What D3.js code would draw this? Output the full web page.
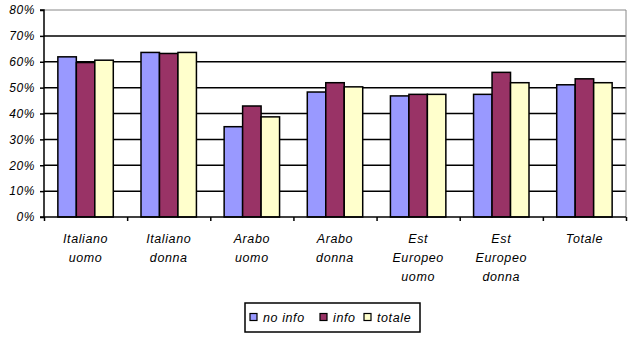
<!DOCTYPE html>
<html>
<head>
<meta charset="utf-8">
<script src="https://cdn.jsdelivr.net/npm/d3@7"></script>
<style>
  html, body { margin: 0; padding: 0; background: #fff; }
  svg { display: block; }
  text { font-family: "Liberation Sans", Arial, sans-serif; font-style: italic; fill: #000; }
</style>
</head>
<body>
<script>
const categories = [
  ["Italiano", "uomo"],
  ["Italiano", "donna"],
  ["Arabo", "uomo"],
  ["Arabo", "donna"],
  ["Est", "Europeo", "uomo"],
  ["Est", "Europeo", "donna"],
  ["Totale"]
];
const seriesNames = ["no info", "info", "totale"];
const noInfo = [0.619, 0.636, 0.349, 0.483, 0.468, 0.474, 0.511];
const info   = [0.597, 0.632, 0.429, 0.519, 0.474, 0.559, 0.534];
const totale = [0.606, 0.636, 0.387, 0.503, 0.474, 0.519, 0.519];
const yTicks = [0, 0.1, 0.2, 0.3, 0.4, 0.5, 0.6, 0.7, 0.8];
const colors = ["#9999FF", "#993366", "#FFFFCC"];

const W = 629, H = 337;
const pLeft = 44, pRight = 626, pTop = 10, pBottom = 217;

const svg = d3.select("body").append("svg").attr("width", W).attr("height", H);

const catIdx = categories.map((d, i) => i);
const x = d3.scaleBand().domain(catIdx).range([pLeft, pRight]).paddingInner(0).paddingOuter(0);
const y = d3.scaleLinear().domain([0, 0.8]).range([pBottom, pTop]);
const bw = x.bandwidth() / 4.5;
const xs = d3.scaleBand().domain([0, 1, 2]).range([0.75 * bw, 3.75 * bw]);

// gridlines
svg.append("g").selectAll("line").data(yTicks.filter(t => t > 0)).join("line")
  .attr("x1", pLeft).attr("x2", pRight)
  .attr("y1", d => y(d)).attr("y2", d => y(d))
  .attr("stroke", d => d === 0.8 ? "#888" : "#000")
  .attr("stroke-width", d => d === 0.8 ? 1 : 1.5);
// right border
svg.append("line").attr("x1", pRight).attr("x2", pRight).attr("y1", pTop).attr("y2", pBottom)
  .attr("stroke", "#888").attr("stroke-width", 1);

// bars
const data = [noInfo, info, totale];
const g = svg.append("g");
data.forEach((vals, s) => {
  g.selectAll(null).data(vals).join("rect")
    .attr("x", (d, i) => x(i) + xs(s))
    .attr("y", d => y(d))
    .attr("width", xs.bandwidth())
    .attr("height", d => y(0) - y(d))
    .attr("fill", colors[s])
    .attr("stroke", "#000")
    .attr("stroke-width", 1.5);
});

// y axis
const yAxis = d3.axisLeft(y).tickValues(yTicks).tickFormat(d3.format(".0%")).tickSize(4).tickPadding(5);
const ya = svg.append("g").attr("transform", `translate(${pLeft},0)`).call(yAxis);
ya.select(".domain").attr("stroke", "#000").attr("stroke-width", 1.5).attr("d", `M-4,${pTop}H0V${pBottom}H-4`);
ya.selectAll(".tick line").attr("stroke", "#000").attr("stroke-width", 1.5);
ya.selectAll(".tick text").attr("font-size", 12).attr("font-style", "italic")
  .attr("font-family", "Liberation Sans, Arial, sans-serif").attr("letter-spacing", "0.6px").attr("fill", "#000");

// x axis
const xAxis = d3.axisBottom(d3.scaleLinear().domain([0, 7]).range([pLeft, pRight]))
  .tickValues(d3.range(8)).tickSize(4).tickFormat("");
const xa = svg.append("g").attr("transform", `translate(0,${pBottom})`).call(xAxis);
xa.select(".domain").attr("stroke", "#000").attr("stroke-width", 1.5).attr("d", `M${pLeft},0H${pRight}`);
xa.selectAll(".tick line").attr("stroke", "#000").attr("stroke-width", 1.5);

// category labels
const lab = svg.append("g");
categories.forEach((lines, i) => {
  const t = lab.append("text")
    .attr("x", x(i) + x.bandwidth() / 2)
    .attr("y", 243)
    .attr("text-anchor", "middle")
    .attr("font-size", 12.5)
    .attr("letter-spacing", "0.6px");
  lines.forEach((ln, j) => {
    t.append("tspan").attr("x", x(i) + x.bandwidth() / 2).attr("y", 243 + j * 19).text(ln);
  });
});

// legend
const lg = svg.append("g");
lg.append("rect").attr("x", 245).attr("y", 303).attr("width", 175).attr("height", 29)
  .attr("fill", "#fff").attr("stroke", "#000").attr("stroke-width", 1.5);
const legX = [250, 320, 364];
seriesNames.forEach((n, s) => {
  lg.append("rect").attr("x", legX[s]).attr("y", 313.5).attr("width", 7).attr("height", 7)
    .attr("fill", colors[s]).attr("stroke", "#000").attr("stroke-width", 1.2);
  lg.append("text").attr("x", legX[s] + 13).attr("y", 322).attr("font-size", 12.5)
    .attr("letter-spacing", "0.6px").text(n);
});
</script>
</body>
</html>
